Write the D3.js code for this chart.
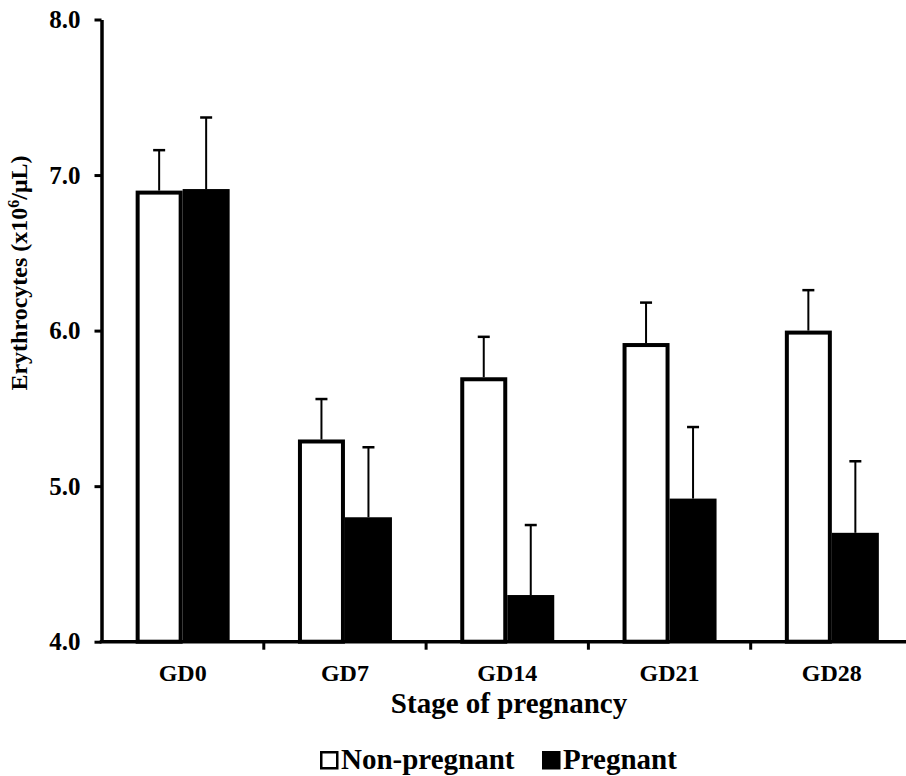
<!DOCTYPE html>
<html>

<head>
  <meta charset="utf-8">
  <title>Erythrocytes by stage of pregnancy</title>
  <script type="text/javascript" src="https://cdn.jsdelivr.net/npm/d3@7"></script>
  <style>
    body { margin: 0; background: white; }
    .chart text {
      font-family: "Liberation Serif", "Times New Roman", serif;
      font-weight: bold;
      fill: black;
    }
  </style>
</head>

<body>
  <svg class="chart"></svg>
</body>
<script>
  //1. Data
  var stages = ["GD0", "GD7", "GD14", "GD21", "GD28"];
  var series = ["Non-pregnant", "Pregnant"];
  var nonPregnant = [6.90, 5.30, 5.70, 5.92, 6.00];
  var nonPregnantErr = [0.26, 0.26, 0.26, 0.26, 0.26];
  var pregnant = [6.91, 4.80, 4.30, 4.92, 4.70];
  var pregnantErr = [0.46, 0.45, 0.45, 0.46, 0.46];
  var yTicks = [4, 5, 6, 7, 8];

  var rows = [];
  stages.forEach(function(s, i) {
    rows.push({stage: s, series: series[0], value: nonPregnant[i], err: nonPregnantErr[i]});
    rows.push({stage: s, series: series[1], value: pregnant[i], err: pregnantErr[i]});
  });

  //2. Sizes
  var W = 906, H = 776;
  var axisX = 101.5, axisY = 641.7;
  var bandW = 162.3, barW = 47;

  var svg = d3.select(".chart")
    .attr("width", W)
    .attr("height", H);

  //3. Scales
  var x = d3.scaleBand()
    .domain(stages)
    .range([axisX, axisX + stages.length * bandW])
    .padding(0);

  var xs = d3.scaleBand()
    .domain(series)
    .range([x.bandwidth() / 2 - barW, x.bandwidth() / 2 + barW])
    .padding(0);

  var y = d3.scaleLinear()
    .domain([4, 8])
    .range([axisY, 19.5]);

  var color = { "Non-pregnant": "white", "Pregnant": "black" };

  //4. Bars
  var g = svg.selectAll("g.grp")
    .data(stages)
    .enter().append("g")
    .attr("class", "grp")
    .attr("transform", function(d) { return "translate(" + x(d) + ",0)"; });

  g.selectAll("rect")
    .data(function(d) { return rows.filter(function(r) { return r.stage === d; }); })
    .enter().append("rect")
    .attr("x", function(d) { return xs(d.series) + (d.series === "Non-pregnant" ? 2 : 0); })
    .attr("width", function(d) { return d.series === "Non-pregnant" ? xs.bandwidth() - 4 : xs.bandwidth(); })
    .attr("y", function(d) { return y(d.value) + (d.series === "Non-pregnant" ? 2 : 0); })
    .attr("height", function(d) { return axisY - y(d.value) - (d.series === "Non-pregnant" ? 2 : 0); })
    .style("fill", function(d) { return color[d.series]; })
    .style("stroke", "black")
    .style("stroke-width", function(d) { return d.series === "Non-pregnant" ? 4 : 0; });

  //5. Error bars (upper only)
  var eb = g.selectAll("g.err")
    .data(function(d) { return rows.filter(function(r) { return r.stage === d; }); })
    .enter().append("g")
    .attr("class", "err");

  eb.append("line")
    .attr("x1", function(d) { return xs(d.series) + xs.bandwidth() / 2; })
    .attr("x2", function(d) { return xs(d.series) + xs.bandwidth() / 2; })
    .attr("y1", function(d) { return y(d.value); })
    .attr("y2", function(d) { return y(d.value + d.err); })
    .style("stroke", "black")
    .style("stroke-width", 2);

  eb.append("line")
    .attr("x1", function(d) { return xs(d.series) + xs.bandwidth() / 2 - 6; })
    .attr("x2", function(d) { return xs(d.series) + xs.bandwidth() / 2 + 6; })
    .attr("y1", function(d) { return y(d.value + d.err); })
    .attr("y2", function(d) { return y(d.value + d.err); })
    .style("stroke", "black")
    .style("stroke-width", 2.5);

  //6. Y axis
  var yAxis = svg.append("g")
    .attr("transform", "translate(" + axisX + ",0)")
    .call(d3.axisLeft(y).tickValues(yTicks).tickFormat(d3.format(".1f")).tickSize(7).tickSizeOuter(0).tickPadding(14));
  yAxis.select(".domain").style("stroke-width", 3.5);
  yAxis.selectAll(".tick line").style("stroke-width", 3);
  yAxis.selectAll("text").style("font-size", "25px").attr("dy", "0.32em");

  //7. X axis
  var xAxis = svg.append("g")
    .attr("transform", "translate(0," + axisY + ")")
    .call(d3.axisBottom(x).tickSize(0).tickSizeOuter(0).tickPadding(0));
  xAxis.select(".domain").attr("d", "M" + (axisX - 1.75) + ",0H" + W).style("stroke-width", 3.5);
  xAxis.selectAll("text").style("font-size", "24px").attr("y", 39).attr("dy", null);

  xAxis.selectAll("line.bound")
    .data(stages)
    .enter().append("line")
    .attr("class", "bound")
    .attr("x1", function(d) { return x(d) + x.bandwidth(); })
    .attr("x2", function(d) { return x(d) + x.bandwidth(); })
    .attr("y1", 0)
    .attr("y2", 8)
    .style("stroke", "black")
    .style("stroke-width", 3);

  //8. Axis titles
  svg.append("text")
    .attr("x", 509)
    .attr("y", 713)
    .attr("text-anchor", "middle")
    .style("font-size", "29px")
    .text("Stage of pregnancy");

  var yt = svg.append("text")
    .attr("transform", "translate(27,273) rotate(-90)")
    .attr("text-anchor", "middle")
    .style("font-size", "24px");
  yt.append("tspan").text("Erythrocytes (x10");
  yt.append("tspan").attr("baseline-shift", "super").style("font-size", "16px").text("6");
  yt.append("tspan").text("/\u03bcL)");

  //9. Legend
  var legX = [320, 542];
  var leg = svg.selectAll("g.leg")
    .data(series)
    .enter().append("g")
    .attr("class", "leg")
    .attr("transform", function(d, i) { return "translate(" + legX[i] + ",751)"; });

  leg.append("rect")
    .attr("x", 1.25).attr("y", 1.25)
    .attr("width", 16).attr("height", 16)
    .style("fill", function(d) { return color[d]; })
    .style("stroke", "black")
    .style("stroke-width", 2.5);

  leg.append("text")
    .attr("x", 21)
    .attr("y", 18)
    .style("font-size", "29px")
    .text(function(d) { return d; });

</script>

</html>
